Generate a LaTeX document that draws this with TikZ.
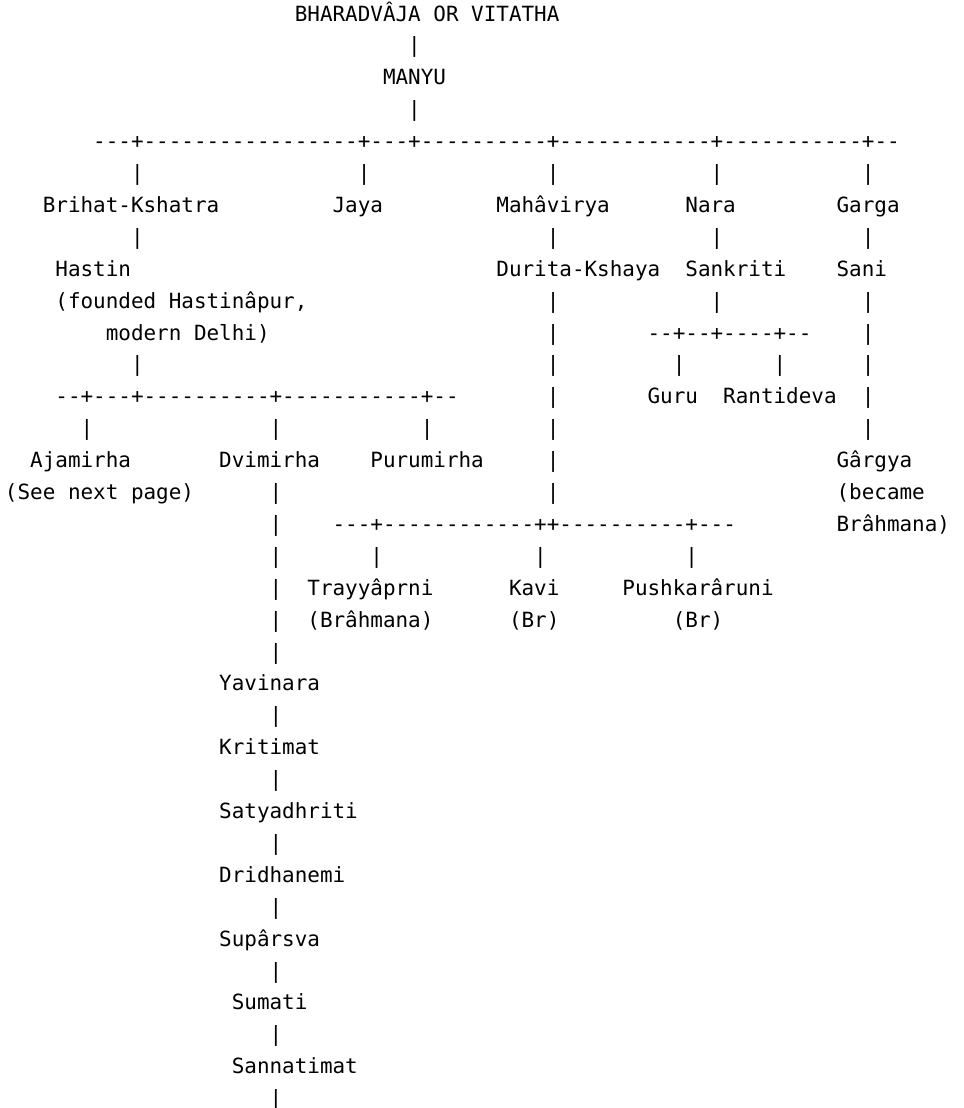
\documentclass[tikz,border=0pt]{standalone}
\usepackage{fontspec}
\newfontfamily\asciifont[Ligatures=TeXOff]{DejaVu Sans Mono}
\tikzset{
  txt/.style={anchor=base west, inner sep=0pt, outer sep=0pt,
    font=\asciifont\fontsize{15.7pt}{15.7pt}\selectfont, text=black}
}
% \A{name}{row}{column}{text}
\newcommand\A[4]{\node[txt] (#1) at ({5+12.6*#3},{21+31.9*#2}) {#4};}
\begin{document}
\begin{tikzpicture}[x=0.75pt,y=-0.75pt]
\useasboundingbox (0,0) rectangle (964,1108);
% row 0-4
\A{title}{0}{23}{BHARADVÂJA OR VITATHA}
\A{p1}{1}{32}{|}
\A{manyu}{2}{30}{MANYU}
\A{p3}{3}{32}{|}
\A{bar4}{4}{7}{---+-----------------+---+----------+------------+-----------+--}
% row 5
\A{p5a}{5}{10}{|}
\A{p5b}{5}{28}{|}
\A{p5c}{5}{43}{|}
\A{p5d}{5}{56}{|}
\A{p5e}{5}{68}{|}
% row 6
\A{brihat}{6}{3}{Brihat-Kshatra}
\A{jaya}{6}{26}{Jaya}
\A{mahavirya}{6}{39}{Mahâvirya}
\A{nara}{6}{54}{Nara}
\A{garga}{6}{66}{Garga}
% row 7
\A{p7a}{7}{10}{|}
\A{p7b}{7}{43}{|}
\A{p7c}{7}{56}{|}
\A{p7d}{7}{68}{|}
% row 8
\A{hastin}{8}{4}{Hastin}
\A{durita}{8}{39}{Durita-Kshaya}
\A{sankriti}{8}{54}{Sankriti}
\A{sani}{8}{66}{Sani}
% row 9
\A{founded}{9}{4}{(founded Hastinâpur,}
\A{p9a}{9}{43}{|}
\A{p9b}{9}{56}{|}
\A{p9c}{9}{68}{|}
% row 10
\A{delhi}{10}{8}{modern Delhi)}
\A{p10a}{10}{43}{|}
\A{bar10}{10}{51}{--+--+----+--}
\A{p10b}{10}{68}{|}
% row 11
\A{p11a}{11}{10}{|}
\A{p11b}{11}{43}{|}
\A{p11c}{11}{53}{|}
\A{p11d}{11}{61}{|}
\A{p11e}{11}{68}{|}
% row 12
\A{bar12}{12}{4}{--+---+----------+-----------+--}
\A{p12a}{12}{43}{|}
\A{guru}{12}{51}{Guru}
\A{rantideva}{12}{57}{Rantideva}
\A{p12b}{12}{68}{|}
% row 13
\A{p13a}{13}{6}{|}
\A{p13b}{13}{21}{|}
\A{p13c}{13}{33}{|}
\A{p13d}{13}{43}{|}
\A{p13e}{13}{68}{|}
% row 14
\A{ajamirha}{14}{2}{Ajamirha}
\A{dvimirha}{14}{17}{Dvimirha}
\A{purumirha}{14}{29}{Purumirha}
\A{p14a}{14}{43}{|}
\A{gargya}{14}{66}{Gârgya}
% row 15
\A{seenext}{15}{0}{(See next page)}
\A{p15a}{15}{21}{|}
\A{p15b}{15}{43}{|}
\A{became}{15}{66}{(became}
% row 16
\A{p16a}{16}{21}{|}
\A{bar16}{16}{26}{---+------------++----------+---}
\A{brahmanaG}{16}{66}{Brâhmana)}
% row 17
\A{p17a}{17}{21}{|}
\A{p17b}{17}{29}{|}
\A{p17c}{17}{42}{|}
\A{p17d}{17}{54}{|}
% row 18
\A{p18a}{18}{21}{|}
\A{trayya}{18}{24}{Trayyâprni}
\A{kavi}{18}{40}{Kavi}
\A{pushkar}{18}{49}{Pushkarâruni}
% row 19
\A{p19a}{19}{21}{|}
\A{brahmanaT}{19}{24}{(Brâhmana)}
\A{brK}{19}{40}{(Br)}
\A{brP}{19}{53}{(Br)}
% rows 20-34
\A{p20}{20}{21}{|}
\A{yavinara}{21}{17}{Yavinara}
\A{p22}{22}{21}{|}
\A{kritimat}{23}{17}{Kritimat}
\A{p24}{24}{21}{|}
\A{satyadhriti}{25}{17}{Satyadhriti}
\A{p26}{26}{21}{|}
\A{dridhanemi}{27}{17}{Dridhanemi}
\A{p28}{28}{21}{|}
\A{suparsva}{29}{17}{Supârsva}
\A{p30}{30}{21}{|}
\A{sumati}{31}{18}{Sumati}
\A{p32}{32}{21}{|}
\A{sannatimat}{33}{18}{Sannatimat}
\A{p34}{34}{21}{|}
\end{tikzpicture}
\end{document}
